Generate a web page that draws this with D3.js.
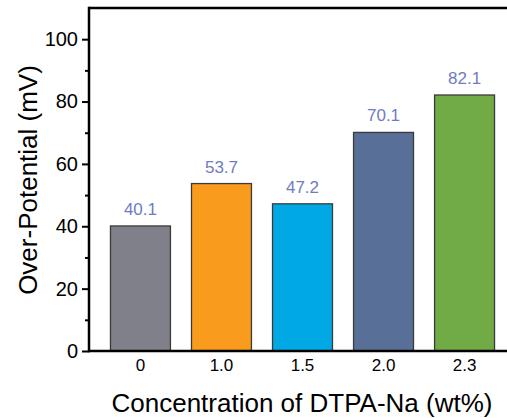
<!DOCTYPE html>
<html>
<head>
<meta charset="utf-8">
<script src="https://cdn.jsdelivr.net/npm/d3@7"></script>
<style>
  html, body { margin: 0; padding: 0; background: #fff; }
  svg { display: block; font-family: "Liberation Sans", Arial, sans-serif; }
</style>
</head>
<body>
<svg id="chart" width="507" height="418"></svg>
<script>
// Over-potential vs. DTPA-Na concentration
const categories = ["0", "1.0", "1.5", "2.0", "2.3"];
const values = [40.1, 53.7, 47.2, 70.1, 82.1];
const colors = ["#80808a", "#f99b1c", "#00a9e4", "#587097", "#70ab46"];
const yTicks = [0, 20, 40, 60, 80, 100];
const yMinorTicks = [10, 30, 50, 70, 90];

const svg = d3.select("#chart");
const plotLeft = 89, plotTop = 8, plotBottom = 351;

const x = d3.scaleBand()
  .domain(categories)
  .range([plotLeft, 516])
  .paddingInner(0.26)
  .paddingOuter(0.265);

const y = d3.scaleLinear().domain([0, 110]).range([plotBottom, plotTop]);

// bars
svg.append("g").selectAll("rect")
  .data(values)
  .join("rect")
  .attr("x", (d, i) => x(categories[i]))
  .attr("y", d => y(d))
  .attr("width", x.bandwidth())
  .attr("height", d => y(0) - y(d))
  .attr("fill", (d, i) => colors[i])
  .attr("stroke", "#3a3a3a")
  .attr("stroke-width", 1.3);

// value labels
svg.append("g").selectAll("text")
  .data(values)
  .join("text")
  .attr("x", (d, i) => x(categories[i]) + x.bandwidth() / 2)
  .attr("y", d => y(d) - 11)
  .attr("text-anchor", "middle")
  .attr("font-size", 17)
  .attr("fill", "#6f7cc0")
  .text(d => d.toFixed(1));

// y axis with major and minor ticks
const yAxis = svg.append("g")
  .attr("transform", `translate(${plotLeft},0)`)
  .call(d3.axisLeft(y).tickValues(yTicks).tickSize(7).tickPadding(4).tickFormat(d3.format("d")));
yAxis.select(".domain").remove();
yAxis.selectAll(".tick line").attr("stroke", "#000").attr("stroke-width", 2);
yAxis.selectAll(".tick text").attr("font-size", 20).attr("fill", "#000").attr("font-family", "Liberation Sans, Arial, sans-serif");

const yMinor = svg.append("g")
  .attr("transform", `translate(${plotLeft},0)`)
  .call(d3.axisLeft(y).tickValues(yMinorTicks).tickSize(4).tickFormat(""));
yMinor.select(".domain").remove();
yMinor.selectAll(".tick line").attr("stroke", "#000").attr("stroke-width", 2);

// x axis labels (no tick marks)
const xAxis = svg.append("g")
  .attr("transform", `translate(0,${plotBottom})`)
  .call(d3.axisBottom(x).tickSize(0).tickPadding(8));
xAxis.select(".domain").remove();
xAxis.selectAll(".tick text").attr("font-size", 17).attr("fill", "#000").attr("font-family", "Liberation Sans, Arial, sans-serif");

// frame lines
svg.append("line").attr("x1", plotLeft).attr("x2", 507).attr("y1", plotBottom).attr("y2", plotBottom)
  .attr("stroke", "#000").attr("stroke-width", 2.5);
svg.append("line").attr("x1", plotLeft).attr("x2", 507).attr("y1", plotTop).attr("y2", plotTop)
  .attr("stroke", "#000").attr("stroke-width", 2.5);
svg.append("line").attr("x1", plotLeft).attr("x2", plotLeft).attr("y1", plotTop - 1.25).attr("y2", plotBottom + 1.25)
  .attr("stroke", "#000").attr("stroke-width", 2.5);

// axis titles
svg.append("text")
  .attr("x", 302).attr("y", 412)
  .attr("text-anchor", "middle")
  .attr("font-size", 26)
  .attr("fill", "#000")
  .text("Concentration of DTPA-Na (wt%)");

svg.append("text")
  .attr("transform", "translate(37,180) rotate(-90)")
  .attr("text-anchor", "middle")
  .attr("font-size", 26)
  .attr("fill", "#000")
  .text("Over-Potential (mV)");
</script>
</body>
</html>
